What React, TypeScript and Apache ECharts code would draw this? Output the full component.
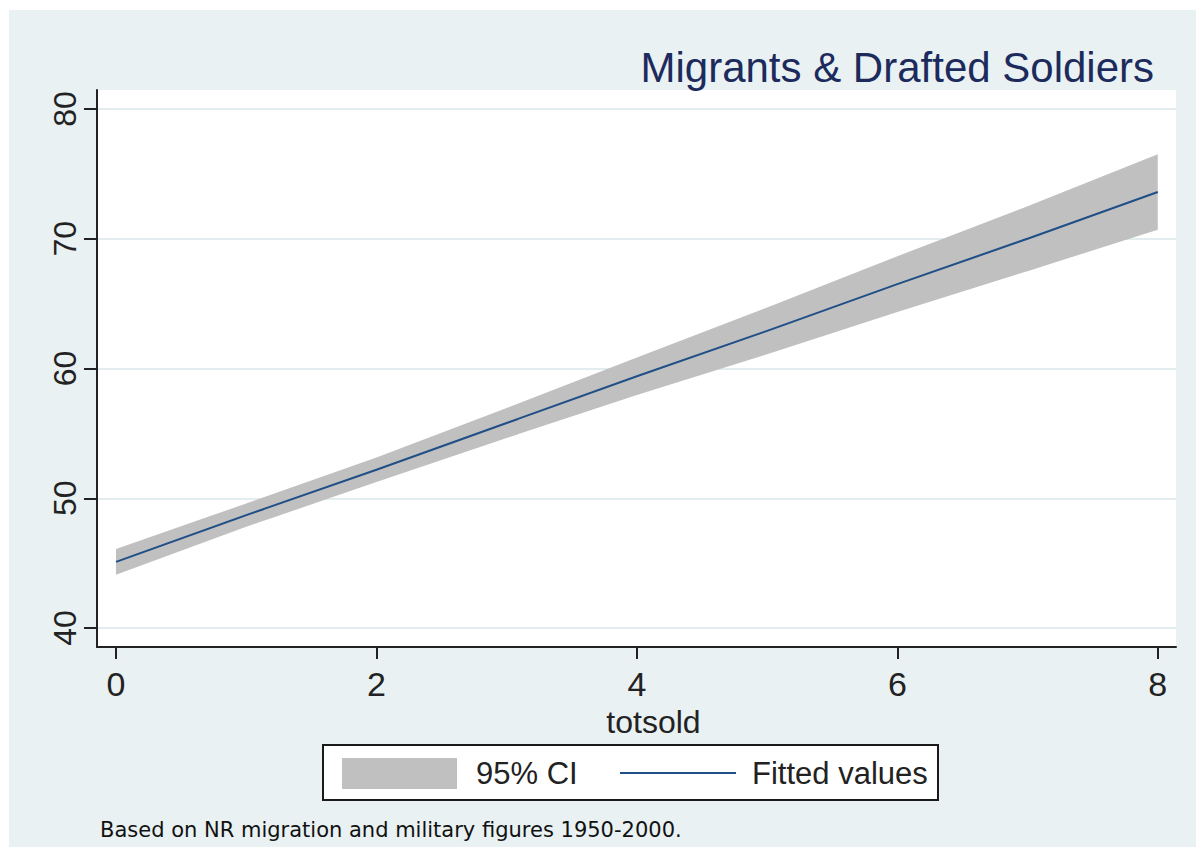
import React, { useEffect, useRef } from "react";
import * as echarts from "echarts";

const xs = [0, 1, 2, 3, 4, 5, 6, 7, 8];
const fitted = [45.1, 48.7, 52.2, 55.8, 59.4, 62.9, 66.5, 70.0, 73.6];
const upper = [46.1, 49.6, 53.15, 56.95, 60.85, 64.7, 68.65, 72.5, 76.5];
const lower = [44.1, 47.8, 51.25, 54.65, 57.95, 61.1, 64.35, 67.5, 70.7];
const xTicks = [0, 2, 4, 6, 8];
const yTicks = [40, 50, 60, 70, 80];

const titleText = "Migrants & Drafted Soldiers";
const xName = "totsold";
const legendNames = ["95% CI", "Fitted values"];
const noteText = "Based on NR migration and military figures 1950-2000.";

const FONT = "'Liberation Sans', Arial, sans-serif";
const BAND = "#c0c0c0";
const LINE = "#1f4f86";

export default function App() {
  const ref = useRef<HTMLDivElement>(null);
  useEffect(() => {
    if (!ref.current) return;
    const chart = echarts.init(ref.current, null, { renderer: "svg" });
    const option: any = {
      animation: false,
      backgroundColor: "#e9f1f3",
      title: {
        text: titleText,
        right: 42,
        top: 36,
        padding: 0,
        textStyle: { fontFamily: FONT, fontSize: 42, fontWeight: "normal", color: "#1c2b5c" },
      },
      grid: {
        left: 88,
        right: 20,
        top: 80,
        bottom: 200,
        show: true,
        backgroundColor: "#ffffff",
        borderWidth: 0,
      },
      xAxis: {
        type: "value",
        min: -0.146,
        max: 8.14,
        name: xName,
        nameLocation: "middle",
        nameGap: 52,
        nameTextStyle: { fontFamily: FONT, fontSize: 32, color: "#222", padding: [0, 0, 0, 34] },
        axisLine: { show: true, onZero: false, lineStyle: { color: "#222", width: 2 } },
        axisTick: { show: true, length: 12, customValues: xTicks, lineStyle: { color: "#222", width: 2 } },
        axisLabel: { customValues: xTicks, margin: 20, fontFamily: FONT, fontSize: 34, color: "#222" },
        splitLine: { show: false },
      },
      yAxis: {
        type: "value",
        min: 38.54,
        max: 81.46,
        axisLine: { show: true, onZero: false, lineStyle: { color: "#222", width: 2 } },
        axisTick: { show: true, length: 13, customValues: yTicks, lineStyle: { color: "#222", width: 2 } },
        axisLabel: { customValues: yTicks, rotate: 90, margin: 16, fontFamily: FONT, fontSize: 32, color: "#222" },
        splitLine: { show: true, lineStyle: { color: "#e3edf0", width: 2 } },
      },
      series: [
        {
          type: "custom",
          name: legendNames[0],
          z: 2,
          data: xs.map((x, i) => [x, lower[i], upper[i]]),
          encode: { x: 0, y: [1, 2] },
          renderItem: (params: any, api: any) => {
            if (params.dataIndex !== 0) return null;
            const pts: number[][] = [];
            for (let i = 0; i < xs.length; i++) pts.push(api.coord([xs[i], upper[i]]));
            for (let i = xs.length - 1; i >= 0; i--) pts.push(api.coord([xs[i], lower[i]]));
            return { type: "polygon", shape: { points: pts }, style: { fill: BAND } };
          },
        },
        {
          type: "line",
          name: legendNames[1],
          z: 3,
          data: xs.map((x, i) => [x, fitted[i]]),
          showSymbol: false,
          lineStyle: { color: LINE, width: 2 },
        },
      ],
      graphic: [
        {
          type: "rect",
          shape: { x: 314, y: 735, width: 615, height: 55 },
          style: { fill: "#ffffff", stroke: "#1a1a1a", lineWidth: 2 },
        },
        {
          type: "rect",
          shape: { x: 333, y: 748, width: 115, height: 31 },
          style: { fill: BAND },
        },
        {
          type: "text",
          x: 467,
          y: 763,
          style: { text: legendNames[0], font: `31px ${FONT}`, fill: "#222", verticalAlign: "middle" },
        },
        {
          type: "line",
          shape: { x1: 611, y1: 763, x2: 727, y2: 763 },
          style: { stroke: LINE, lineWidth: 2 },
        },
        {
          type: "text",
          x: 743,
          y: 763,
          style: { text: legendNames[1], font: `31px ${FONT}`, fill: "#222", verticalAlign: "middle" },
        },
        {
          type: "text",
          x: 91,
          y: 820,
          style: { text: noteText, font: `21px 'DejaVu Sans', Verdana, sans-serif`, fill: "#111", verticalAlign: "middle" },
        },
      ],
    };
    chart.setOption(option);
    return () => chart.dispose();
  }, []);
  return (
    <div
      ref={ref}
      style={{ position: "fixed", left: 9, top: 10, width: 1187, height: 837 }}
    />
  );
}
